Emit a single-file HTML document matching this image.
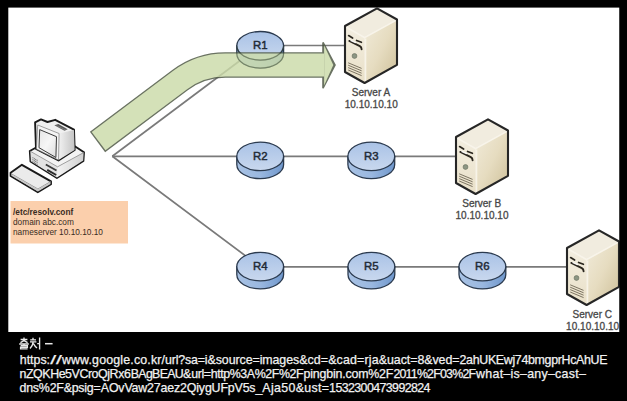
<!DOCTYPE html>
<html><head><meta charset="utf-8">
<style>
html,body{margin:0;padding:0;background:#000;width:627px;height:401px;overflow:hidden;}
#wrap{position:absolute;left:0;top:0;width:627px;height:401px;}
svg{position:absolute;left:0;top:0;display:block;}
text{font-family:"Liberation Sans",sans-serif;}
</style></head><body><div id="wrap">
<svg width="627" height="401" viewBox="0 0 627 401">
<defs>
  <linearGradient id="rtop" x1="0" y1="0" x2="0" y2="1">
    <stop offset="0" stop-color="#a9c2e6"/>
    <stop offset="1" stop-color="#c9d8ee"/>
  </linearGradient>
  <linearGradient id="rside" x1="0" y1="0" x2="1" y2="0">
    <stop offset="0" stop-color="#a8c2e4"/>
    <stop offset="0.5" stop-color="#9ab8e0"/>
    <stop offset="1" stop-color="#6f97cc"/>
  </linearGradient>
  <linearGradient id="sside" x1="0" y1="0" x2="1" y2="1">
    <stop offset="0" stop-color="#f1ebda"/>
    <stop offset="0.5" stop-color="#e6dcc0"/>
    <stop offset="1" stop-color="#cdbf98"/>
  </linearGradient>
  <linearGradient id="sfront" x1="0" y1="0" x2="0" y2="1">
    <stop offset="0" stop-color="#f3eee0"/>
    <stop offset="1" stop-color="#e9e0c8"/>
  </linearGradient>
  <g id="router">
    <path d="M-23.4,0 L-23.4,8 A23.4,14.3 0 0 0 23.4,8 L23.4,0 Z" fill="url(#rside)" stroke="#2b3a4e" stroke-width="1.3"/>
    <ellipse cx="0" cy="0" rx="23.4" ry="14.3" fill="url(#rtop)" stroke="#2b3a4e" stroke-width="1.3"/>
  </g>
  <g id="server">
    <!-- right face -->
    <polygon points="364.6,37.2 397,19.5 397,64.8 364.6,83" fill="url(#sside)"/>
    <!-- front face -->
    <polygon points="345,26 364.6,37.2 364.6,83 345,72" fill="url(#sfront)"/>
    <!-- top face -->
    <polygon points="345,26 377,8.3 397,19.5 364.6,37.2" fill="#f1ecdf"/>
    <path d="M346,27 L364.6,37.6 L396,20.4" stroke="#f8f4ea" stroke-width="1.6" fill="none"/>
    <path d="M365.6,38.5 L365.6,82" stroke="#f7f3e8" stroke-width="1.4"/>
    <!-- slots -->
    <path d="M348.6,35.6 L352.6,38" stroke="#2a261e" stroke-width="1.7" stroke-linecap="round"/>
    <path d="M356.6,40.5 L361.4,42.3" stroke="#2a261e" stroke-width="1.7" stroke-linecap="round"/>
    <path d="M349.3,40.9 L359.8,46.2 Q361.6,47.2 361.6,49.2" stroke="#2a261e" stroke-width="1.9" fill="none" stroke-linecap="round"/>
    <path d="M351,40.6 L355.5,42.6" stroke="#ffffff" stroke-width="1.2" stroke-linecap="round" opacity="0.9"/>
    <circle cx="354.5" cy="56" r="2.4" fill="#8c9684" stroke="#6c7262" stroke-width="0.7"/>
    <path d="M348.2,62.8 L361.6,68.4 M348.2,65.2 L361.6,70.8 M348.2,67.6 L361.6,73.2 M348.2,70 L361.6,75.6" stroke="#6f6856" stroke-width="0.9"/>
    <!-- outline -->
    <polygon points="345,26 377,8.3 397,19.5 397,64.8 364.6,83 345,72" fill="none" stroke="#262626" stroke-width="2.1" stroke-linejoin="round"/>
  </g>
</defs>

<rect x="8.3" y="7.6" width="611.2" height="324.4" fill="#ffffff"/>

<!-- connection lines -->
<g stroke="#7a7a7a" stroke-width="1.7" fill="none">
  <path d="M112.3,156.3 L260.2,45.5"/>
  <path d="M112.3,156.3 L455,156.3"/>
  <path d="M112.3,156.3 L260.2,266.8 L566,266.8"/>
  <path d="M260.2,45.5 L345,45.5"/>
</g>

<!-- routers -->
<use href="#router" x="260.2" y="45.8"/>
<use href="#router" x="260.2" y="156.4"/>
<use href="#router" x="371.3" y="156.4"/>
<use href="#router" x="260.2" y="266.6"/>
<use href="#router" x="371.4" y="266.6"/>
<use href="#router" x="482.4" y="266.6"/>
<g font-size="11.4" fill="#222a36" stroke="#222a36" stroke-width="0.45" text-anchor="middle">
  <text x="260.2" y="49.2">R1</text>
  <text x="260.2" y="159.8">R2</text>
  <text x="371.3" y="159.8">R3</text>
  <text x="260.2" y="270">R4</text>
  <text x="371.4" y="270">R5</text>
  <text x="482.4" y="270">R6</text>
</g>

<!-- green arrow -->
<g opacity="0.82">
  <path d="M97.5,142 L180.2,80 Q200.2,65 225.2,65 L323,65" stroke="#4a5440" stroke-width="25.4" fill="none" stroke-linejoin="round"/>
  <polygon points="323,42.5 335,65 323,88.2" fill="#4a5440" stroke="#4a5440" stroke-width="1.6" stroke-linejoin="miter"/>
  <path d="M98.6,141.2 L180.2,80 Q200.2,65 225.2,65 L324,65" stroke="#cbdba9" stroke-width="22.9" fill="none"/>
  <polygon points="324.1,45.2 333.3,65 324.1,85.6" fill="#cbdba9"/>
</g>

<!-- R1 outline through band -->
<g transform="translate(260.2,45.8)" fill="none" stroke="#3a4a3a" stroke-width="1.1" opacity="0.5">
  <path d="M-23.4,7 L-23.4,8 A23.4,14.3 0 0 0 23.4,8 L23.4,7"/>
  <path d="M-23.4,0 A23.4,14.3 0 0 0 23.4,0"/>
</g>

<!-- servers -->
<use href="#server"/>
<use href="#server" x="111" y="111"/>
<use href="#server" x="222" y="222"/>

<g font-size="10" fill="#474747" stroke="#474747" stroke-width="0.3" text-anchor="middle">
  <text x="371" y="96.3">Server A</text>
  <text x="371.2" y="108.4" textLength="53" lengthAdjust="spacing">10.10.10.10</text>
  <text x="481.7" y="206.9">Server B</text>
  <text x="482" y="219" textLength="53" lengthAdjust="spacing">10.10.10.10</text>
  <text x="592.3" y="317.6">Server C</text>
  <text x="592.6" y="329.8" textLength="53" lengthAdjust="spacing">10.10.10.10</text>
</g>

<!-- cover right overflow -->
<rect x="619.5" y="0" width="8" height="401" fill="#000"/>

<!-- resolv.conf box -->
<rect x="10.5" y="201" width="117.5" height="42.5" fill="#fbcfac"/>
<g font-size="8.3" fill="#3a2c22">
  <text x="13" y="215.1" font-weight="bold">/etc/resolv.conf</text>
  <text x="13" y="224.9">domain abc.com</text>
  <text x="13" y="234.8">nameserver 10.10.10.10</text>
</g>

<!-- computer -->
<defs>
  <linearGradient id="mside" x1="0" y1="0" x2="1" y2="0">
    <stop offset="0" stop-color="#f2f2f2"/>
    <stop offset="1" stop-color="#c4c4c4"/>
  </linearGradient>
  <linearGradient id="scr" x1="0" y1="0" x2="1" y2="1">
    <stop offset="0" stop-color="#e6e6e6"/>
    <stop offset="0.5" stop-color="#f6f6f6"/>
    <stop offset="1" stop-color="#dcdcdc"/>
  </linearGradient>
  <linearGradient id="cside" x1="0" y1="0" x2="1" y2="0">
    <stop offset="0" stop-color="#f4f4f4"/>
    <stop offset="1" stop-color="#d0d0d0"/>
  </linearGradient>
</defs>
<g stroke-linejoin="round">
  <!-- keyboard -->
  <polygon points="10.6,172.8 21.9,164.8 51,181.4 51,184.2 37.8,192.2 10.6,176" fill="#ebebeb" stroke="#1a1a1a" stroke-width="1.9"/>
  <path d="M11,173.6 L37.9,189 L50.6,181.6" stroke="#9a9a9a" stroke-width="1" fill="none"/>
  <polygon points="11.5,174.2 37.9,189.2 50.5,182 50.5,184 37.9,191.5 11.5,175.8" fill="#c8c8c8"/>
  <!-- case -->
  <polygon points="29.8,151 47,141.5 74.8,146.3 84,152.3 83.4,160.9 56.9,178 30.5,161.5" fill="#f3f3f3" stroke="#1a1a1a" stroke-width="1.9"/>
  <polygon points="57.6,166.8 83.6,152.6 83.2,160.6 56.9,177.5" fill="url(#cside)"/>
  <polygon points="30.4,151.4 57.6,166.8 56.9,177.5 30.9,161.3" fill="#e2e2e2"/>
  <path d="M30.2,151.2 L57.6,166.8 L83.8,152.5" stroke="#8a8a8a" stroke-width="0.8" fill="none"/>
  <path d="M45.8,164.5 L56.5,170.5" stroke="#3a3a3a" stroke-width="1.8"/>
  <path d="M47.2,169.8 L56.2,175" stroke="#2a2a2a" stroke-width="2"/>
  <path d="M32.5,157.6 L38,160.8 M32.5,159.6 L38,162.8 M32.5,161.6 L38,164.8" stroke="#777" stroke-width="1.1" stroke-dasharray="1 0.6"/>
  <!-- monitor -->
  <polygon points="35.1,122.4 41,119.4 47.5,122 55.2,119.8 74,129.6 74.7,150 58.5,160.5 36,149" fill="#f0f0f0" stroke="#1a1a1a" stroke-width="1.9"/>
  <polygon points="59.1,133.5 74,130 74.6,150 58.5,160" fill="url(#mside)"/>
  <polygon points="54.4,125.3 58.3,124 67.7,129.2 64.4,130.8" fill="#5a5a5a"/>
  <path d="M56.5,125.6 L66,130.2" stroke="#999" stroke-width="0.5"/>
  <polygon points="37.7,125 59.1,133.5 58.5,160 36.4,149" fill="#f4f4f4" stroke="#7a7a7a" stroke-width="0.7"/>
  <polygon points="39.7,129.6 56.5,136.7 55.9,157.5 39,147.7" fill="url(#scr)" stroke="#3a3a3a" stroke-width="1"/>
</g>

<!-- caption -->
<g fill="#f2f2f2" stroke="#f2f2f2" stroke-width="0.25" font-size="12.4">
  <text x="19.8" y="364.0" textLength="30.2" lengthAdjust="spacing">https:</text>
  <text x="50.2" y="364.0" textLength="11.7" lengthAdjust="spacingAndGlyphs">//</text>
  <text x="61.9" y="364.0" textLength="103.1" lengthAdjust="spacing">www.google.co.kr/</text>
  <text x="165.0" y="364.0" textLength="50.7" lengthAdjust="spacing">url?sa=i&amp;</text>
  <text x="215.7" y="364.0" textLength="91.7" lengthAdjust="spacing">source=images&amp;</text>
  <text x="307.4" y="364.0" textLength="79.6" lengthAdjust="spacing">cd=&amp;cad=rja&amp;</text>
  <text x="387.0" y="364.0" textLength="72.5" lengthAdjust="spacing">uact=8&amp;ved=</text>
  <text x="459.5" y="364.0" textLength="148.0" lengthAdjust="spacing">2ahUKEwj74bmgprHcAhUE</text>
  <text x="19.5" y="378.0" textLength="111.3" lengthAdjust="spacing">nZQKHe5VCroQjRx6</text>
  <text x="130.8" y="378.0" textLength="60.5" lengthAdjust="spacing">BAgBEAU&amp;</text>
  <text x="191.3" y="378.0" textLength="112.3" lengthAdjust="spacing">url=http%3A%2F%2F</text>
  <text x="303.6" y="378.0" textLength="89.8" lengthAdjust="spacing">pingbin.com%2F</text>
  <text x="393.4" y="378.0" textLength="82.7" lengthAdjust="spacing">2011%2F03%2F</text>
  <text x="476.1" y="378.0" textLength="109.7" lengthAdjust="spacing">what–is–any–cast–</text>
  <text x="19.5" y="391.6" textLength="81.3" lengthAdjust="spacing">dns%2F&amp;psig=</text>
  <text x="100.8" y="391.6" textLength="161.5" lengthAdjust="spacing">AOvVaw27aez2QiygUFpV5s_</text>
  <text x="262.3" y="391.6" textLength="66.8" lengthAdjust="spacing">Aja50&amp;ust=</text>
  <text x="329.1" y="391.6" textLength="101.4" lengthAdjust="spacing">1532300473992824</text>
</g>
<!-- Korean 출처 - -->
<g stroke="#e8e8e8" stroke-width="1.35" fill="none">
  <path d="M24,337.6 L24,339 M20.6,339.5 L27.4,339.5 M20.4,342.6 L24,340.6 L27.6,342.6 M19.2,344 L28.8,344 M24,344 L24,345.4 M20.6,345.6 L27.4,345.6 L27.4,347.2 L20.6,347.2 L20.6,348.8 L27.6,348.8"/>
  <path d="M33,337.8 L33,339.2 M30.2,339.8 L36,339.8 M30,341.8 L36.4,341.8 M33.2,341.8 Q32.6,346 30,348.6 M33.4,343.6 Q35,346.4 37,348 M37.2,343.6 L39.4,343.6 M39.6,337.4 L39.6,349.4"/>
  <path d="M45,343.7 L52.6,343.7" stroke-width="1.5"/>
</g>
</svg></div>
</body></html>
